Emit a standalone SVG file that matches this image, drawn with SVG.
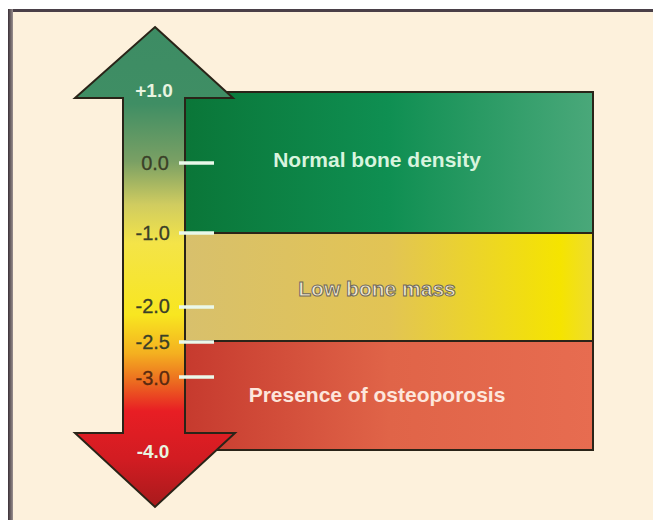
<svg xmlns="http://www.w3.org/2000/svg" width="653" height="520" viewBox="0 0 653 520">
<defs>
<linearGradient id="gGreen" x1="0" y1="0" x2="1" y2="0">
<stop offset="0" stop-color="#0a7638"/>
<stop offset="0.5" stop-color="#0f8f52"/>
<stop offset="1" stop-color="#4aa87a"/>
</linearGradient>
<linearGradient id="gYellow" x1="0" y1="0" x2="1" y2="0">
<stop offset="0" stop-color="#d8c06c"/>
<stop offset="0.5" stop-color="#e2c454"/>
<stop offset="0.92" stop-color="#f5e400"/>
<stop offset="1" stop-color="#eedc30"/>
</linearGradient>
<linearGradient id="gRed" x1="0" y1="0" x2="1" y2="0">
<stop offset="0" stop-color="#c63a2e"/>
<stop offset="0.5" stop-color="#e06448"/>
<stop offset="1" stop-color="#e76c50"/>
</linearGradient>
<linearGradient id="gShaft" gradientUnits="userSpaceOnUse" x1="0" y1="27" x2="0" y2="507">
<stop offset="0" stop-color="#3d8c64"/>
<stop offset="0.16" stop-color="#3f8e64"/>
<stop offset="0.28" stop-color="#7aa064"/>
<stop offset="0.37" stop-color="#d0cc60"/>
<stop offset="0.45" stop-color="#f4e448"/>
<stop offset="0.6" stop-color="#f8e620"/>
<stop offset="0.68" stop-color="#f4b020"/>
<stop offset="0.74" stop-color="#ec6a20"/>
<stop offset="0.8" stop-color="#e81e24"/>
<stop offset="0.9" stop-color="#d21c22"/>
<stop offset="1" stop-color="#a81a1c"/>
</linearGradient>
<linearGradient id="gFrame" x1="0" y1="0" x2="1" y2="0">
<stop offset="0" stop-color="#3a3036"/>
<stop offset="1" stop-color="#9a9090"/>
</linearGradient>
<style>
.lab{font-family:"Liberation Sans",Arial,sans-serif;font-size:20px;fill:#3a4028;text-anchor:end;stroke:#3a4028;stroke-width:0.3}
.wl{font-family:"Liberation Sans",Arial,sans-serif;font-size:19px;font-weight:bold;fill:#e8f4e0;text-anchor:middle}
.big{font-family:"Liberation Sans",Arial,sans-serif;font-size:21px;font-weight:bold;text-anchor:middle}
.tick{stroke:#eaf8ea;stroke-width:3.5}
.box{stroke:#2a2418;stroke-width:2}
</style>
</defs>
<rect width="653" height="520" fill="#ffffff"/>
<rect x="8" y="9" width="645" height="511" fill="#fdf1dc"/>
<rect x="8" y="9" width="645" height="3" fill="#4a4048"/>
<rect x="8" y="9" width="5" height="511" fill="url(#gFrame)"/>

<g id="normal">
<rect class="box" x="185" y="92" width="408" height="141" fill="url(#gGreen)"/>
<text class="big" x="377" y="167" fill="#d8f4de">Normal bone density</text>
</g>
<g id="low">
<rect class="box" x="185" y="233" width="408" height="108" fill="url(#gYellow)"/>
<text class="big" x="377" y="296" fill="#f2ead0" stroke="#6e685c" stroke-width="1">Low bone mass</text>
</g>
<g id="osteo">
<rect class="box" x="185" y="341" width="408" height="109" fill="url(#gRed)"/>
<text class="big" x="377" y="402" fill="#fde6dc">Presence of osteoporosis</text>
</g>

<g id="arrow">
<path d="M155,27 L233,98 L185,98 L185,433 L235,433 L155,507 L75,433 L123,433 L123,98 L75,98 Z" fill="url(#gShaft)" stroke="#2a2418" stroke-width="2" stroke-linejoin="miter"/>
<text class="wl" x="154" y="97">+1.0</text>
<text class="wl" x="153" y="458" fill="#f4e8e0">-4.0</text>
</g>

<g id="scale">
<line class="tick" x1="179" y1="163" x2="214" y2="163"/>
<line class="tick" x1="179" y1="233" x2="214" y2="233"/>
<line class="tick" x1="179" y1="307" x2="214" y2="307"/>
<line class="tick" x1="179" y1="342" x2="214" y2="342"/>
<line class="tick" x1="179" y1="377" x2="214" y2="377"/>
<text class="lab" x="169" y="170">0.0</text>
<text class="lab" x="170" y="240">-1.0</text>
<text class="lab" x="170" y="313">-2.0</text>
<text class="lab" x="170" y="349">-2.5</text>
<text class="lab" x="170" y="385" style="fill:#5a2a10;stroke:#5a2a10">-3.0</text>
</g>
</svg>
